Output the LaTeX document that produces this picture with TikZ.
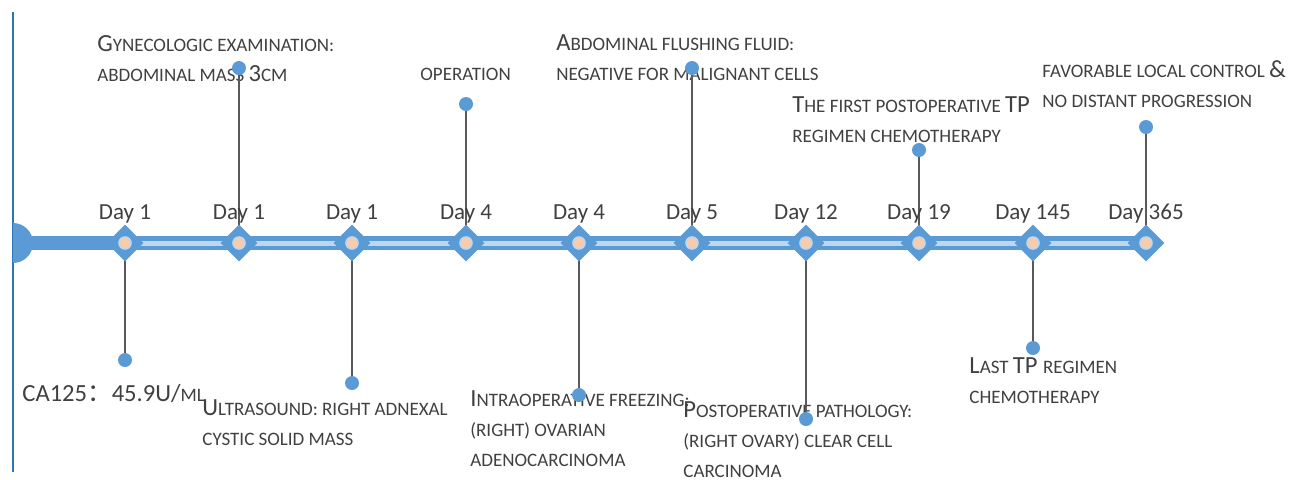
\documentclass[tikz,border=0pt]{standalone}
\usepackage{fontspec}
\setmainfont{Carlito}
\newfontfamily\cjk{Noto Sans CJK SC}
\usetikzlibrary{shapes.geometric,positioning}
\definecolor{barblue}{HTML}{5B9BD5}
\definecolor{lineblue}{HTML}{2E75B6}
\definecolor{stripe}{HTML}{BDD7EE}
\definecolor{peach}{HTML}{F8CBAD}
\definecolor{stemgray}{HTML}{595959}
\definecolor{txtgray}{HTML}{404040}
\newcommand{\lsc}[1]{{\fontsize{9.5}{15}\selectfont\MakeUppercase{#1}}}
\tikzset{
  daymark/.style={diamond, aspect=1, fill=barblue, inner sep=0, minimum size=18.5pt},
  hub/.style={circle, fill=peach, draw=stripe, line width=0.8pt, inner sep=0, minimum size=6pt},
  dot/.style={circle, fill=barblue, inner sep=0, minimum size=7pt},
  stem/.style={draw=stemgray, line width=0.75pt},
  daylbl/.style={font=\fontsize{11.5}{14}\selectfont, text=txtgray, inner sep=0, anchor=base},
  lbl/.style={font=\fontsize{12.3}{15}\selectfont, text=txtgray, align=left, inner sep=0, anchor=base west}
}
\begin{document}
\begin{tikzpicture}[x=0.5pt, y=-0.5pt]
	\useasboundingbox (0,0) rectangle (1295,479);
	% positions on the time line
	\foreach \x [count=\i] in {125,239,352,466,579,692,806,919,1033,1146}
		\coordinate (c\i) at (\x,243);
	% event texts (anchored at the baseline of their last line)
	\node[lbl] (g1) at (22,401) {CA125{\cjk ：}45.9U/\lsc{ml}};
	\node[lbl] (g2) at (97,81) {G\lsc{ynecologic examination:}\\\lsc{abdominal mass }3\lsc{cm}};
	\node[lbl] (g3) at (202,445) {U\lsc{ltrasound: right adnexal}\\\lsc{cystic solid mass}};
	\node[lbl] (g4) at (420,80) {\lsc{operation}};
	\node[lbl] (g5) at (556,80) {A\lsc{bdominal flushing fluid:}\\\lsc{negative for malignant cells}};
	\node[lbl] (g6) at (470,466) {I\lsc{ntraoperative freezing:}\\\lsc{(right) ovarian}\\\lsc{adenocarcinoma}};
	\node[lbl] (g7) at (683,477) {P\lsc{ostoperative pathology:}\\\lsc{(right ovary) clear cell}\\\lsc{carcinoma}};
	\node[lbl] (g8) at (792,142) {T\lsc{he first postoperative }TP\\\lsc{regimen chemotherapy}};
	\node[lbl] (g9) at (1042,107) {\lsc{favorable local control }\&\\\lsc{no distant progression}};
	\node[lbl] (g10) at (969,403) {L\lsc{ast }TP \lsc{regimen}\\\lsc{chemotherapy}};
	% dots and stems
	\foreach \i/\x/\y in {1/125/360,2/239/68,3/352/383,4/466/104,5/579/395,
		6/692/68,7/806/419,8/919/150,9/1033/348,10/1146/127}
		\node[dot] (p\i) at (\x,\y) {};
	\foreach \i in {1,...,10}
		\draw[stem] (c\i) -- (p\i);
	% axis
	\draw[lineblue, line width=1pt] (13,12) -- (13,472);
	\fill[barblue] (13,223) arc[start angle=90, end angle=-90, radius=10pt] -- cycle;
	\draw[barblue, line width=7pt] (13,243) -- (c10);
	\draw[stripe, line width=2.5pt] (c1) -- (c10);
	\foreach \d [count=\i] in {1,1,1,4,4,5,12,19,145,365} {
		\node[daymark] (d\i) at (c\i) {};
		\node[hub] (h\i) at (c\i) {};
		\node[daylbl] (t\i) at ([yshift=12pt]c\i) {Day \d};
	}
\end{tikzpicture}
\end{document}
